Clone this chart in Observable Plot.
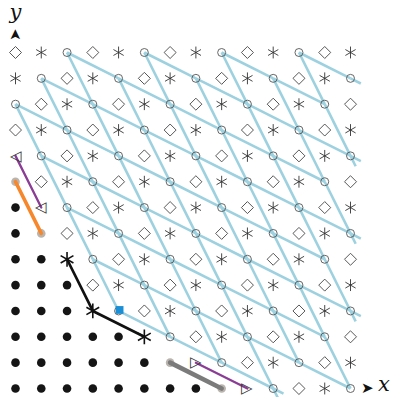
<!DOCTYPE html>
<html><head><meta charset="utf-8">
<script src="https://cdn.jsdelivr.net/npm/d3@7"></script>
<script src="https://cdn.jsdelivr.net/npm/@observablehq/plot@0.6"></script>
<style>body{margin:0;background:#fff} svg{display:block}</style>
</head><body><div id="chart"></div>
<script>
// Grid of lattice symbols, top row (y = 13) first, bottom row (y = 0) last.
// D diamond, A asterisk, O circle, . filled dot, g grey dot, S bold star,
// B blue square (on a circle), < left triangle, > right triangle
const rows = [
  "DAODAODAODAODA",
  "AODAODAODAODAO",
  "ODAODAODAODAOD",
  "DAODAODAODAODA",
  "<ODAODAODAODAO",
  "gDAODAODAODAOD",
  ".<ODAODAODAODA",
  ".gDAODAODAODAO",
  "..SODAODAODAOD",
  "...DAODAODAODA",
  "...SBDAODAODAO",
  ".....SODAODAOD",
  "......g>ODAODA",
  "........g>ODAO"
];
// lattice directions of the light-blue lines
const steps = [[1, -2], [2, -1]];
// coloured paths (grid indices)
const blackPath = [[2, 5], [3, 3], [5, 2]];
const purplePaths = [[[0, 9], [1, 7]], [[7, 1], [9, 0]]];
const orangePath = [[0, 8], [1, 6]];
const grayPath = [[6, 1], [8, 0]];
// axis decorations
const axisArrows = [{x: 13.65, y: 0, r: 0}, {x: 0, y: 13.68, r: -90}];
const axisLabels = [{x: 14.3, y: 0.16, t: "x"}, {x: 0, y: 14.55, t: "y"}];
const ext = 0.2;

const N = rows.length;
const pts = [];
rows.forEach((r, k) => { const y = N - 1 - k; [...r].forEach((c, x) => pts.push({x, y, c})); });
const at = (x, y) => (x >= 0 && x < N && y >= 0 && y < N) ? rows[N - 1 - y][x] : null;
const isC = c => c === "O" || c === "B";
const segs = [];
for (const p of pts) if (isC(p.c)) for (const [dx, dy] of steps) {
  const qx = p.x + dx, qy = p.y + dy;
  if (isC(at(qx, qy))) {
    segs.push({x1: p.x, y1: p.y, x2: qx, y2: qy});
    const onEdge = (qx === N - 1) !== (qy === 0);
    if (onEdge && at(qx + dx, qy + dy) === null)
      segs.push({x1: qx, y1: qy, x2: qx + ext * dx, y2: qy + ext * dy});
  }
}
const toPts = (path, z) => path.map(([x, y]) => ({x, y, z}));
const sel = codes => pts.filter(p => codes.includes(p.c));

const plot = Plot.plot({
  width: 396, height: 397,
  marginLeft: 15, marginRight: 46, marginTop: 52, marginBottom: 9,
  x: {domain: [0, 13], axis: null},
  y: {domain: [0, 13], axis: null},
  style: {background: "#fff", overflow: "visible"},
  marks: [
    Plot.link(segs, {x1: "x1", y1: "y1", x2: "x2", y2: "y2", stroke: "#9dd1e0", strokeWidth: 2.6}),
    Plot.dot(sel(["g"]), {x: "x", y: "y", r: 4.3, fill: "#b9b4ae"}),
    Plot.line(toPts(orangePath, 0), {x: "x", y: "y", stroke: "#f7872b", strokeWidth: 3.6, strokeLinecap: "round"}),
    Plot.line(toPts(grayPath, 0), {x: "x", y: "y", stroke: "#7b7b7b", strokeWidth: 4.6, strokeLinecap: "round"}),
    Plot.line(purplePaths.flatMap((p, i) => toPts(p, i)), {x: "x", y: "y", z: "z", stroke: "#8b3d95", strokeWidth: 2.3}),
    Plot.line(toPts(blackPath, 0), {x: "x", y: "y", stroke: "#111", strokeWidth: 2.7, strokeLinejoin: "round"}),
    Plot.dot(sel(["."]), {x: "x", y: "y", r: 4.3, fill: "#151515"}),
    Plot.dot(sel(["O", "B"]), {x: "x", y: "y", r: 4, symbol: "circle", fill: "none", stroke: "#555", strokeWidth: 0.9}),
    Plot.dot(sel(["D"]), {x: "x", y: "y", r: 5.4, symbol: "diamond2", fill: "none", stroke: "#444", strokeWidth: 0.9}),
    Plot.dot(sel(["A"]), {x: "x", y: "y", r: 5.6, symbol: "asterisk", stroke: "#333", strokeWidth: 0.9}),
    Plot.dot(sel(["S"]), {x: "x", y: "y", r: 7, symbol: "asterisk", stroke: "#111", strokeWidth: 1.6}),
    Plot.dot(sel(["B"]), {x: "x", y: "y", r: 4.4, symbol: "square", fill: "#1b8fd6", dx: 1, dy: -1}),
    Plot.text(sel(["<"]), {x: "x", y: "y", text: () => "◁", fontSize: 15, fill: "#333"}),
    Plot.text(sel([">"]), {x: "x", y: "y", text: () => "▷", fontSize: 15, fill: "#333"}),
    Plot.text(axisArrows, {x: "x", y: "y", rotate: "r", text: () => "➤", fontSize: 15, fill: "#111"}),
    Plot.text(axisLabels, {x: "x", y: "y", text: "t", fontSize: 21, fontStyle: "italic", fontFamily: "DejaVu Serif", fill: "#111"})
  ]
});
document.getElementById("chart").append(plot);
</script>
</body></html>
